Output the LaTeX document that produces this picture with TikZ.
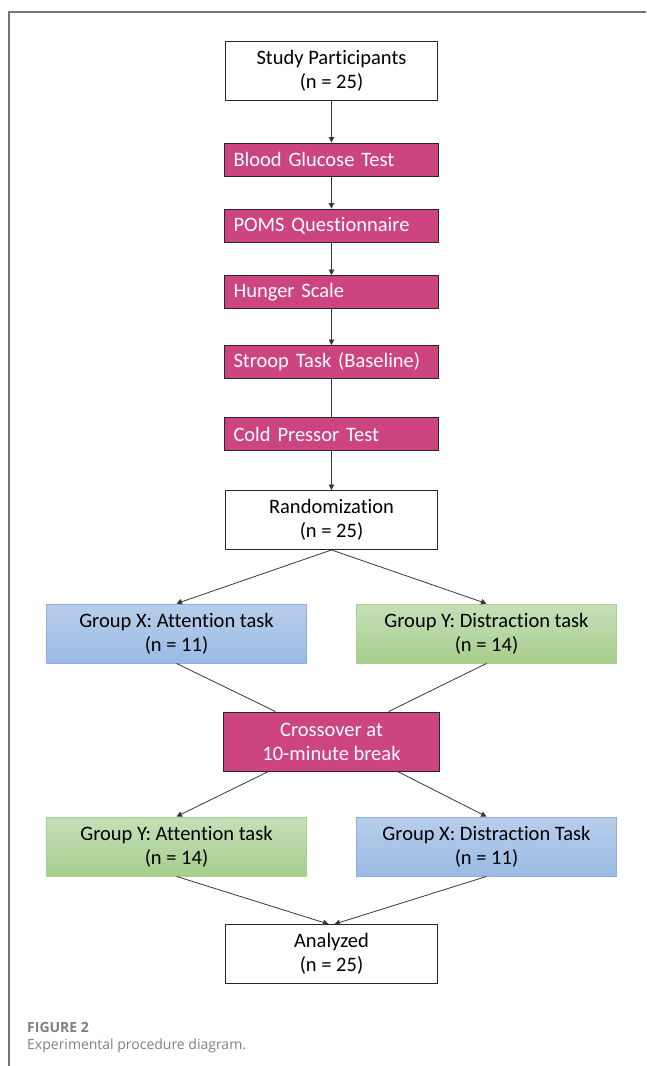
\documentclass[tikz,border=0pt]{standalone}
\usepackage{fontspec}
\setmainfont{Carlito}[Ligatures=NoCommon]
\newfontfamily\capfont{Open Sans}
\usepackage{tikz}
\usetikzlibrary{shapes.geometric, arrows.meta}
\definecolor{pinkfill}{RGB}{204,68,128}
\definecolor{boxline}{RGB}{40,40,40}
\definecolor{blueline}{RGB}{143,174,222}
\definecolor{bluetop}{RGB}{184,205,235}
\definecolor{bluebottom}{RGB}{155,187,228}
\definecolor{greenline}{RGB}{170,208,145}
\definecolor{greentop}{RGB}{198,223,185}
\definecolor{greenbottom}{RGB}{166,206,140}
\definecolor{framegray}{RGB}{118,118,118}
\definecolor{capgray}{RGB}{128,128,128}
\tikzstyle{whitebox} = [rectangle, minimum width=212pt, minimum height=59pt, text centered, align=center, draw=boxline, fill=white, line width=0.9pt]
\tikzstyle{pinkbox} = [rectangle, minimum width=214pt, minimum height=33pt, text width=196pt, inner xsep=9pt, inner ysep=3pt, align=left, draw=boxline, fill=pinkfill, text=white, line width=0.9pt]
\tikzstyle{crossbox} = [rectangle, minimum width=216pt, minimum height=59pt, text centered, align=center, draw=boxline, fill=pinkfill, text=white, line width=0.9pt]
\tikzstyle{bluebox} = [rectangle, minimum width=260pt, minimum height=59pt, text centered, align=center, draw=blueline, top color=bluetop, bottom color=bluebottom, line width=0.9pt]
\tikzstyle{greenbox} = [rectangle, minimum width=260pt, minimum height=59pt, text centered, align=center, draw=greenline, top color=greentop, bottom color=greenbottom, line width=0.9pt]
\tikzstyle{connector} = [line width=0.8pt, draw={rgb,255:red,55;green,55;blue,55}]
\tikzstyle{arrow} = [connector, ->, >={Triangle[length=5.5pt,width=5.5pt]}]

\begin{document}
\begin{tikzpicture}[x=1pt, y=-1pt, node distance=66pt, font=\fontsize{20.5}{24}\selectfont]

        \useasboundingbox (0,0) rectangle (646,1066);
        \draw [framegray, line width=1.2pt] (9,1066) -- (9,12) -- (646,12);

        \node (start) [whitebox] at (331.5,70.5) {Study Participants\\(n = 25)};
        \node (glucose) [pinkbox, below of=start, yshift=-23pt] {Blood Glucose Test};
        \node (poms) [pinkbox, below of=glucose] {POMS Questionnaire};
        \node (hunger) [pinkbox, below of=poms, yshift=-0.5pt] {Hunger Scale};
        \node (stroop) [pinkbox, below of=hunger, yshift=-4pt] {Stroop Task (Baseline)};
        \node (cold) [pinkbox, below of=stroop, yshift=-6pt] {Cold Pressor Test};
        \node (random) [whitebox, below of=cold, yshift=-20pt] {Randomization\\(n = 25)};

        \node (groupxa) [bluebox, below of=random, yshift=-47.5pt, xshift=-155pt] {Group X: Attention task\\(n = 11)};
        \node (groupyd) [greenbox, below of=random, yshift=-47.5pt, xshift=155pt] {Group Y: Distraction task\\(n = 14)};
        \node (crossover) [crossbox, below of=random, yshift=-155.5pt] {Crossover at\\10-minute break};
        \node (groupya) [greenbox, below of=crossover, yshift=-39pt, xshift=-155pt] {Group Y: Attention task\\(n = 14)};
        \node (groupxd) [bluebox, below of=crossover, yshift=-39pt, xshift=155pt] {Group X: Distraction Task\\(n = 11)};
        \node (analyzed) [whitebox, below of=crossover, yshift=-146.5pt] {Analyzed\\(n = 25)};

        \node (figlabel) [anchor=base west, inner sep=0pt, text=capgray, font=\capfont\bfseries\fontsize{14}{16}\selectfont] at (27,1032) {FIGURE 2};
        \node (figcaption) [anchor=base west, inner sep=0pt, text=capgray, font=\capfont\fontsize{14}{17}\selectfont] at (27,1049) {Experimental procedure diagram.};

        \draw [arrow] (start) -- (glucose);
        \draw [arrow] (glucose) -- (poms);
        \draw [arrow] (poms) -- (hunger);
        \draw [arrow] (hunger) -- (stroop);
        \draw [connector] (stroop) -- (cold);
        \draw [arrow] (cold) -- (random);

        \draw [arrow] (random.south) -- (groupxa.north);
        \draw [arrow] (random.south) -- (groupyd.north);
        \draw [connector] (groupxa.south) -- ([xshift=-56pt]crossover.north);
        \draw [connector] (groupyd.south) -- ([xshift=57pt]crossover.north);
        \draw [arrow] ([xshift=-63pt]crossover.south) -- (groupya.north);
        \draw [arrow] ([xshift=66pt]crossover.south) -- (groupxd.north);
        \draw [arrow] (groupya.south) -- ([xshift=-3pt]analyzed.north);
        \draw [arrow] (groupxd.south) -- ([xshift=3pt]analyzed.north);

    \end{tikzpicture}
\end{document}
